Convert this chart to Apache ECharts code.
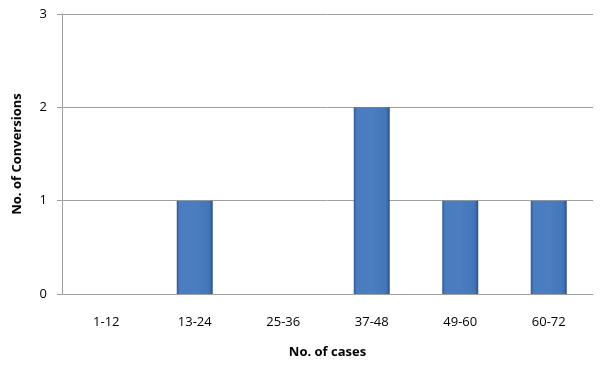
<!DOCTYPE html>
<html>
<head>
<meta charset="utf-8">
<script src="https://cdn.jsdelivr.net/npm/echarts@6/dist/echarts.min.js"></script>
<style>
  html, body { margin: 0; padding: 0; background: #fff; }
  #main { width: 600px; height: 370px; }
</style>
</head>
<body>
<div id="main"></div>
<script>
// data
var categories = ['1-12', '13-24', '25-36', '37-48', '49-60', '60-72'];
var conversions = [0, 1, 0, 2, 1, 1];
var yTicks = [0, 1, 2, 3];

var chart = echarts.init(document.getElementById('main'));

// bevelled blue bar look (darker edges, lighter middle)
var barFill = new echarts.graphic.LinearGradient(0, 0, 1, 0, [
  { offset: 0, color: '#2f5a92' },
  { offset: 0.08, color: '#4a7cbf' },
  { offset: 0.5, color: '#4b7ec1' },
  { offset: 0.9, color: '#4376b8' },
  { offset: 1, color: '#2b5289' }
]);

var option = {
  backgroundColor: '#ffffff',
  textStyle: { fontFamily: 'Open Sans' },
  grid: { left: 62, right: 7, top: 14, bottom: 76 },
  xAxis: {
    type: 'category',
    data: categories,
    name: 'No. of cases',
    nameLocation: 'middle',
    nameGap: 52,
    nameTextStyle: { fontWeight: 'bold', fontSize: 13, color: '#000' },
    axisLine: { lineStyle: { color: '#a0a0a0', width: 1 } },
    axisTick: { show: false },
    axisLabel: { color: '#000', fontSize: 13, margin: 22 }
  },
  yAxis: {
    type: 'value',
    min: yTicks[0],
    max: yTicks[yTicks.length - 1],
    interval: 1,
    name: 'No. of Conversions',
    nameLocation: 'middle',
    nameGap: 38,
    nameTextStyle: { fontWeight: 'bold', fontSize: 13, color: '#000' },
    axisLine: { show: true, lineStyle: { color: '#a0a0a0', width: 1 } },
    axisTick: { show: true, length: 5, lineStyle: { color: '#a0a0a0' } },
    axisLabel: { color: '#000', fontSize: 13, margin: 15 },
    splitLine: { lineStyle: { color: '#a0a0a0', width: 1 } }
  },
  series: [{
    name: 'Conversions',
    type: 'bar',
    data: conversions,
    barWidth: 36,
    itemStyle: {
      color: barFill,
      borderWidth: 0
    }
  }]
};

chart.setOption(option);
</script>
</body>
</html>
